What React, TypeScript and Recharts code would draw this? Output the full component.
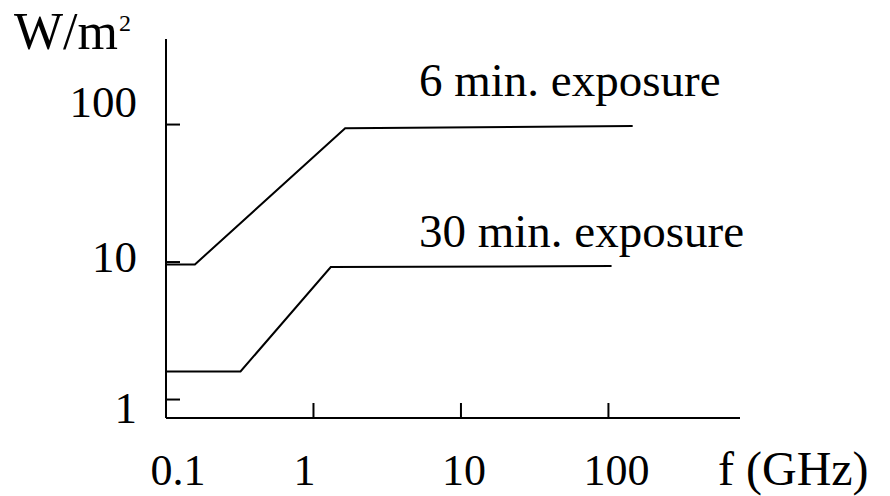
import React from 'react';
import { LineChart, Line, XAxis, YAxis, Customized } from 'recharts';

// Frequency (GHz) breakpoints and power density (W/m^2) for each exposure limit
const freq6min = [0.1, 0.157, 1.64, 146];
const power6min = [9.6, 9.6, 94, 97.5];
const freq30min = [0.1, 0.32, 1.31, 105];
const power30min = [1.6, 1.6, 9.2, 9.35];

const xTicks = [0.1, 1, 10, 100];
const yTicks = [1, 10, 100];
const seriesLabels = ['6 min. exposure', '30 min. exposure'];

const data6 = freq6min.map((f, i) => ({ f, p: power6min[i] }));
const data30 = freq30min.map((f, i) => ({ f, p: power30min[i] }));

const FONT = '"Liberation Serif", "Times New Roman", serif';
const FS = 45;

// small label nudges, mimicking the hand-placed labels of the original figure
const yLabelBaseline: Record<number, number> = { 100: -8, 10: 10, 1: 23 };
const xLabelShift: Record<number, number> = { 0.1: 12, 1: -9, 10: 3, 100: 8 };

const YTick = (props: any) => {
  const { x, y, payload } = props;
  const v = payload.value;
  return (
    <g>
      <line x1={x} x2={x + 14} y1={y} y2={y} stroke="#000" strokeWidth={2} />
      <text
        x={x - 29}
        y={y + (yLabelBaseline[v] ?? 0)}
        textAnchor="end"
        fontFamily={FONT}
        fontSize={FS}
        fill="#000"
      >
        {v}
      </text>
    </g>
  );
};

const XTick = (props: any) => {
  const { x, y, payload, index } = props;
  const v = payload.value;
  return (
    <g>
      {index > 0 && <line x1={x} x2={x} y1={y} y2={y - 15} stroke="#000" strokeWidth={2} />}
      <text
        x={x + (xLabelShift[v] ?? 0)}
        y={y + 67}
        textAnchor="middle"
        fontFamily={FONT}
        fontSize={44}
        fill="#000"
      >
        {v}
      </text>
    </g>
  );
};

const Annotations = () => (
  <g fontFamily={FONT} fill="#000">
    <text x={14} y={49} fontSize={52}>
      W/m
    </text>
    <text x={119} y={31} fontSize={24}>
      2
    </text>
    <text x={718} y={485} fontSize={48}>
      f (GHz)
    </text>
    <text x={419} y={96} fontSize={47}>
      {seriesLabels[0]}
    </text>
    <text x={419} y={247} fontSize={47}>
      {seriesLabels[1]}
    </text>
  </g>
);

export default function App() {
  return (
    <div style={{ position: 'absolute', left: 0, top: 0, background: '#fff' }}>
      <LineChart
        width={890}
        height={496}
        margin={{ top: 39, right: 150, bottom: 0, left: 0 }}
      >
        <XAxis
          dataKey="f"
          type="number"
          scale="log"
          domain={[0.1, 780]}
          ticks={xTicks}
          allowDataOverflow
          height={78}
          tickSize={0}
          tickMargin={0}
          tick={<XTick />}
          axisLine={{ stroke: '#000', strokeWidth: 2 }}
          tickLine={false}
          interval={0}
        />
        <YAxis
          dataKey="p"
          type="number"
          scale="log"
          domain={[0.734, 419]}
          ticks={yTicks}
          allowDataOverflow
          width={166}
          tickSize={0}
          tickMargin={0}
          tick={<YTick />}
          axisLine={{ stroke: '#000', strokeWidth: 2 }}
          tickLine={false}
          interval={0}
        />
        <Line
          data={data6}
          dataKey="p"
          type="linear"
          stroke="#000"
          strokeWidth={2}
          dot={false}
          isAnimationActive={false}
        />
        <Line
          data={data30}
          dataKey="p"
          type="linear"
          stroke="#000"
          strokeWidth={2}
          dot={false}
          isAnimationActive={false}
        />
        <Customized component={Annotations} />
      </LineChart>
    </div>
  );
}
